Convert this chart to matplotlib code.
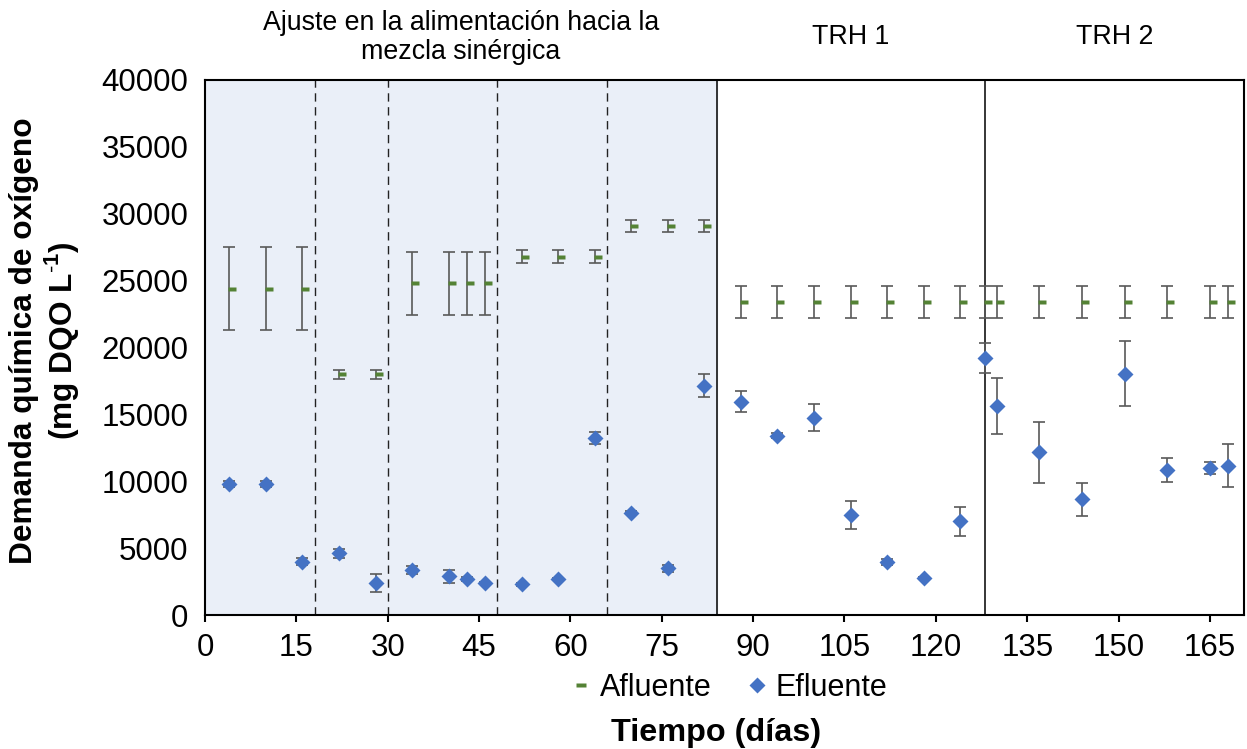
import matplotlib
matplotlib.use('Agg')
import matplotlib.pyplot as plt
from matplotlib.path import Path
from matplotlib.lines import Line2D

plt.rcParams['font.family'] = ['Liberation Sans', 'DejaVu Sans']
plt.rcParams['mathtext.fontset'] = 'custom'
plt.rcParams['mathtext.rm'] = 'Liberation Sans'
plt.rcParams['mathtext.bf'] = 'Liberation Sans:bold'

# Datos (días y DQO en mg/L)
dias = [4, 10, 16, 22, 28, 34, 40, 43, 46, 52, 58, 64, 70, 76, 82,
        88, 94, 100, 106, 112, 118, 124, 128, 130, 137, 144, 151, 158, 165, 168]
afluente = [24400, 24400, 24400, 18000, 18000, 24800, 24800, 24800, 24800,
            26800, 26800, 26800, 29100, 29100, 29100,
            23400, 23400, 23400, 23400, 23400, 23400, 23400, 23400, 23400,
            23400, 23400, 23400, 23400, 23400, 23400]
afluente_err = [3100, 3100, 3100, 350, 350, 2350, 2350, 2350, 2350,
                500, 500, 500, 450, 450, 450,
                1200, 1200, 1200, 1200, 1200, 1200, 1200, 1200, 1200,
                1200, 1200, 1200, 1200, 1200, 1200]
efluente = [9800, 9800, 4000, 4600, 2400, 3400, 2900, 2700, 2400, 2300, 2700,
            13200, 7650, 3500, 17150, 15950, 13400, 14750, 7500, 3950, 2770,
            7000, 19200, 15600, 12150, 8650, 18050, 10850, 11000, 11150]
efluente_err = [250, 250, 250, 350, 700, 300, 500, 150, 100, 100, 100,
                450, 100, 250, 870, 800, 200, 1000, 1050, 200, 100,
                1070, 1100, 2100, 2250, 1250, 2450, 900, 450, 1600]

cambios_mezcla = [18, 30, 48, 66]   # líneas discontinuas
fin_ajuste = 84
inicio_trh2 = 128

fig = plt.figure(figsize=(12.47, 7.49), dpi=100)
ax = fig.add_axes([0.1644, 0.1789, 0.8332, 0.7143])

# zona sombreada y separadores
ax.axvspan(0, fin_ajuste, color='#EAEFF8', zorder=0)
for x in cambios_mezcla:
    ax.axvline(x, color='#222222', lw=1.0, linestyle=(0, (6, 4)), zorder=1)
ax.axvline(fin_ajuste, color='black', lw=1.1, zorder=1)
ax.axvline(inicio_trh2, color='black', lw=1.1, zorder=1)

# marcador tipo guion (ligeramente desplazado a la derecha, como en Excel)
guion = Path([(-0.15, -0.22), (1, -0.22), (1, 0.22), (-0.15, 0.22), (-0.15, -0.22)],
             [Path.MOVETO, Path.LINETO, Path.LINETO, Path.LINETO, Path.CLOSEPOLY])
guion_leg = Path([(-1, -0.4), (1, -0.4), (1, 0.4), (-1, 0.4), (-1, -0.4)],
                 [Path.MOVETO, Path.LINETO, Path.LINETO, Path.LINETO, Path.CLOSEPOLY])

verde = '#548235'
azul = '#4472C4'
gris = '#595959'

ax.errorbar(dias, afluente, yerr=afluente_err, fmt='none', ecolor=gris,
            elinewidth=1.2, capsize=4.3, capthick=1.2, zorder=3)
ax.plot(dias, afluente, linestyle='none', marker=guion, ms=10, color=verde,
        mec='none', zorder=4)
ax.errorbar(dias, efluente, yerr=efluente_err, fmt='none', ecolor=gris,
            elinewidth=1.2, capsize=4.3, capthick=1.2, zorder=3)
ax.plot(dias, efluente, linestyle='none', marker='D', ms=8.2, color=azul,
        mec='none', zorder=5)

ax.set_xlim(0, 170.6)
ax.set_ylim(0, 40000)
ax.set_xticks(range(0, 166, 15))
ax.set_yticks(range(0, 40001, 5000))
ax.tick_params(axis='y', length=0, pad=12, labelsize=22.5)
ax.tick_params(axis='x', direction='out', length=5, width=1.5, pad=8, labelsize=22.5)
for s in ax.spines.values():
    s.set_linewidth(1.5)
    s.set_color('black')

# textos de las etapas
trans = ax.get_xaxis_transform()
ax.text(42, 1.08, 'Ajuste en la alimentación hacia la\nmezcla sinérgica', transform=trans,
        ha='center', va='center', fontsize=19.3, linespacing=1.15)
ax.text(106, 1.08, 'TRH 1', transform=trans, ha='center', va='center', fontsize=19.3)
ax.text(149.3, 1.08, 'TRH 2', transform=trans, ha='center', va='center', fontsize=19.3)

# leyenda
h1 = Line2D([], [], linestyle='none', marker=guion_leg, ms=7, color=verde, mec='none')
h2 = Line2D([], [], linestyle='none', marker='D', ms=8.5, color=azul, mec='none')
ax.legend([h1, h2], ['Afluente', 'Efluente'], loc='center', bbox_to_anchor=(0.505, -0.136),
          ncol=2, frameon=False, fontsize=22, handlelength=0.6, handletextpad=0.3,
          columnspacing=1.2)

fig.text(0.574, 0.021, 'Tiempo (días)', ha='center', va='center', fontsize=23.3,
         fontweight='bold')
fig.text(0.036, 0.545, 'Demanda química de oxígeno\n(mg DQO L$^{\\mathbf{\\text{-}1}}$)', rotation=90,
         ha='center', va='center', fontsize=22.8, fontweight='bold', multialignment='center',
         linespacing=1.1)

fig.savefig('out.png', dpi=100)
